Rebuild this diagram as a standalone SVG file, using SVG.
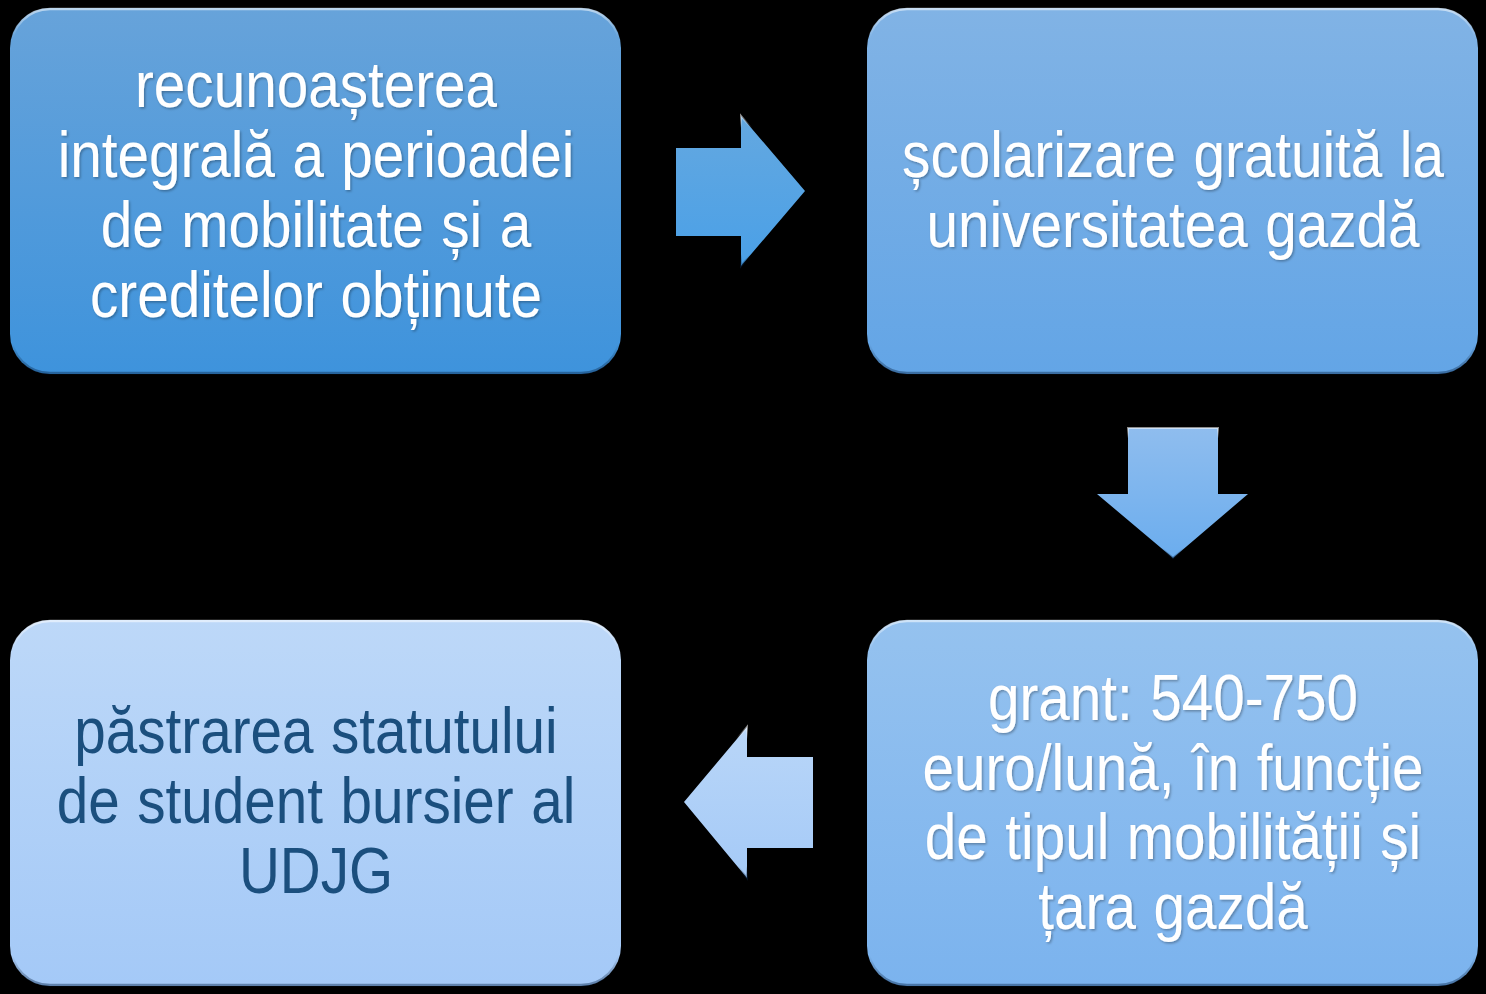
<svg xmlns="http://www.w3.org/2000/svg" width="1486" height="994" viewBox="0 0 1486 994">
<style>
.t{font-family:"Liberation Sans",Arial,sans-serif;font-size:64px;text-anchor:middle;word-spacing:2px;}
.w{fill:#ffffff;}
.d{fill:#1b4f7e;}
</style>
<defs>
<linearGradient id="g1" x1="0" y1="0" x2="0" y2="1"><stop offset="0" stop-color="#67a3da"/><stop offset="1" stop-color="#3e93dc"/></linearGradient>
<linearGradient id="g2" x1="0" y1="0" x2="0" y2="1"><stop offset="0" stop-color="#81b3e5"/><stop offset="1" stop-color="#63a5e6"/></linearGradient>
<linearGradient id="g3" x1="0" y1="0" x2="0" y2="1"><stop offset="0" stop-color="#95c2ef"/><stop offset="1" stop-color="#7bb3ee"/></linearGradient>
<linearGradient id="g4" x1="0" y1="0" x2="0" y2="1"><stop offset="0" stop-color="#bdd8f8"/><stop offset="1" stop-color="#a4c9f7"/></linearGradient>
<linearGradient id="a1" x1="0" y1="0" x2="0" y2="1"><stop offset="0" stop-color="#64a8e0"/><stop offset="1" stop-color="#4aa0e7"/></linearGradient>
<linearGradient id="a2" x1="0" y1="0" x2="0" y2="1"><stop offset="0" stop-color="#8fbdee"/><stop offset="1" stop-color="#6badee"/></linearGradient>
<linearGradient id="a3" x1="0" y1="0" x2="0" y2="1"><stop offset="0" stop-color="#b9d6f8"/><stop offset="1" stop-color="#a5caf7"/></linearGradient>
<linearGradient id="bev" x1="0" y1="0" x2="0" y2="1"><stop offset="0" stop-color="#ffffff" stop-opacity="0.55"/><stop offset="0.08" stop-color="#ffffff" stop-opacity="0"/><stop offset="0.92" stop-color="#000000" stop-opacity="0"/><stop offset="1" stop-color="#0a2a50" stop-opacity="0.45"/></linearGradient>
<filter id="sh" x="-5%" y="-5%" width="110%" height="120%"><feDropShadow dx="1.5" dy="1.5" stdDeviation="1" flood-color="#000000" flood-opacity="0.3"/></filter>
</defs>
<rect width="1486" height="994" fill="#000000"/>
<g id="connectors">
<path d="M676,148 H741 V116 L805,191 L741,266 V236 H676 Z" fill="url(#a1)" stroke="url(#bev)" stroke-width="2"/>
<path d="M1128,428 H1218 V494 H1248 L1173,558 L1097,494 H1128 Z" fill="url(#a2)" stroke="url(#bev)" stroke-width="2"/>
<path d="M813,757 V848 H747 V878 L684,802 L747,727 V757 Z" fill="url(#a3)" stroke="url(#bev)" stroke-width="2"/>
</g>
<g id="node1">
<rect x="10" y="8" width="611" height="366" rx="40" fill="url(#g1)"/>
<rect x="11" y="9" width="609" height="364" rx="39" fill="none" stroke="url(#bev)" stroke-width="2.5"/>
<g class="t w" filter="url(#sh)" transform="translate(316,0) scale(0.885,1)">
<text x="0" y="107">recunoașterea</text>
<text x="0" y="177">integrală a perioadei</text>
<text x="0" y="247">de mobilitate și a</text>
<text x="0" y="317">creditelor obținute</text>
</g>
</g>
<g id="node2">
<rect x="867" y="8" width="611" height="366" rx="40" fill="url(#g2)"/>
<rect x="868" y="9" width="609" height="364" rx="39" fill="none" stroke="url(#bev)" stroke-width="2.5"/>
<g class="t w" filter="url(#sh)" transform="translate(1173,0) scale(0.885,1)">
<text x="0" y="177">școlarizare gratuită la</text>
<text x="0" y="247">universitatea gazdă</text>
</g>
</g>
<g id="node3">
<rect x="867" y="620" width="611" height="366" rx="40" fill="url(#g3)"/>
<rect x="868" y="621" width="609" height="364" rx="39" fill="none" stroke="url(#bev)" stroke-width="2.5"/>
<g class="t w" filter="url(#sh)" transform="translate(1173,0) scale(0.885,1)">
<text x="0" y="720">grant: 540-750</text>
<text x="0" y="790">euro/lună, în funcție</text>
<text x="0" y="859">de tipul mobilității și</text>
<text x="0" y="929">țara gazdă</text>
</g>
</g>
<g id="node4">
<rect x="10" y="620" width="611" height="366" rx="40" fill="url(#g4)"/>
<rect x="11" y="621" width="609" height="364" rx="39" fill="none" stroke="url(#bev)" stroke-width="2.5"/>
<g class="t d" transform="translate(316,0) scale(0.885,1)">
<text x="0" y="753">păstrarea statutului</text>
<text x="0" y="823">de student bursier al</text>
<text x="0" y="893">UDJG</text>
</g>
</g>
</svg>
